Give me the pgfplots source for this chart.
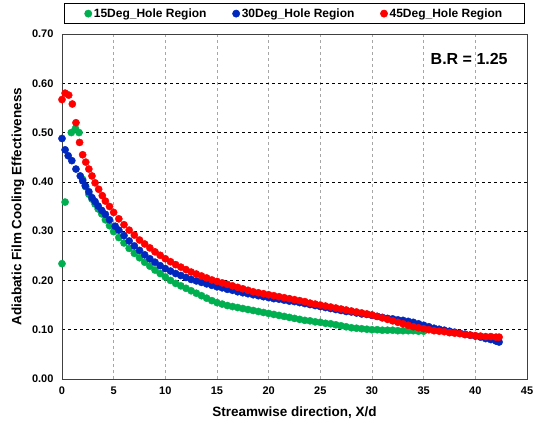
\documentclass[border=0pt]{standalone}
\usepackage{pgfplots}
\pgfplotsset{compat=1.18}
\usepackage{fontspec}
\setmainfont{Liberation Sans}
\definecolor{cgreen}{RGB}{0,176,80}
\definecolor{cblue}{RGB}{0,40,190}
\definecolor{cred}{RGB}{255,0,0}
\begin{document}
\begin{tikzpicture}
\begin{axis}[
  scale only axis, width=465pt, height=345pt,
  xmin=0, xmax=45, ymin=0, ymax=0.7,
  xtick={0,5,...,45}, ytick={0,0.1,...,0.7},
  major tick length=0pt,
  axis line style={draw=black!75, line width=0.8pt},
  grid=major,
  x grid style={dashed, gray!70, line width=0.5pt},
  y grid style={dashed, black, line width=0.5pt},
  /pgf/number format/assume math mode=true,
  ticklabel style={font=\bfseries\fontsize{11}{13}\selectfont},
  yticklabel style={/pgf/number format/fixed, /pgf/number format/fixed zerofill, /pgf/number format/precision=2, xshift=-5pt},
  xticklabel style={/pgf/number format/fixed, yshift=-4pt},
  xlabel={Streamwise direction, X/d},
  ylabel={Adiabatic Film Cooling Effectiveness},
  label style={font=\bfseries\fontsize{13.5}{15}\selectfont},
  xlabel style={yshift=-6pt},
  ylabel style={yshift=1pt},
  legend columns=3,
  legend style={at={(0.5,1)}, yshift=10pt, anchor=south, draw=black, line width=0.6pt,
    font=\bfseries\fontsize{12}{14}\selectfont, inner xsep=20pt, inner ysep=3pt,
    /tikz/every even column/.append style={column sep=24pt}},
  legend image code/.code={\draw[mark repeat=2,mark phase=2] plot coordinates {(0cm,0cm) (0.12cm,0cm) (0.24cm,0cm)};},
  every axis plot/.append style={only marks, mark=*, mark size=3.6pt},
]
\addplot[cgreen, mark options={draw=cgreen, fill=cgreen}] coordinates {
(0,0.234)(0.3,0.359)(0.9,0.50)(1.3,0.508)(1.65,0.50)
(2.0,0.405)(2.3,0.39)(2.6,0.375)(2.9,0.365)(3.2,0.355)(3.5,0.345)(3.85,0.335)(4.2,0.323)(4.6,0.311)
(5.0,0.299)(5.5,0.287)(6,0.276)(6.5,0.265)(7,0.255)(7.5,0.246)(8,0.237)(8.5,0.229)(9,0.221)(9.5,0.214)
(10,0.207)(10.5,0.200)(11,0.194)(11.5,0.189)(12,0.184)(12.5,0.179)(13,0.174)(13.5,0.169)(14,0.164)(14.5,0.159)
(15,0.155)(15.5,0.152)(16,0.149)(16.5,0.147)(17,0.145)(17.5,0.143)(18,0.141)(18.5,0.139)(19,0.137)(19.5,0.135)
(20,0.133)(20.5,0.131)(21,0.129)(21.5,0.127)(22,0.125)(22.5,0.123)(23,0.121)(23.5,0.119)(24,0.118)(24.5,0.116)
(25,0.115)(25.5,0.113)(26,0.112)(26.5,0.110)(27,0.108)(27.5,0.106)(28,0.104)(28.5,0.103)(29,0.102)(29.5,0.101)
(30,0.100)(30.5,0.100)(31,0.099)(31.5,0.099)(32,0.099)(32.5,0.098)(33,0.098)(33.5,0.098)(34,0.098)(34.5,0.097)(35,0.097)
};
\addlegendentry{15Deg\_Hole Region}
\addplot[cblue, mark options={draw=cblue, fill=cblue}] coordinates {
(0,0.488)(0.3,0.465)(0.6,0.453)(0.95,0.443)(1.35,0.426)(1.77,0.412)(2.0,0.402)(2.25,0.392)(2.6,0.38)(2.9,0.368)
(3.2,0.36)(3.5,0.351)(3.85,0.342)(4.2,0.334)(4.6,0.323)(5.15,0.310)(5.5,0.302)(6,0.291)(6.5,0.280)(7,0.270)
(7.5,0.261)(8,0.252)(8.5,0.244)(9,0.237)(9.5,0.230)(10,0.224)(10.5,0.219)(11,0.214)(11.5,0.210)(12,0.206)
(12.5,0.202)(13,0.199)(13.5,0.196)(14,0.193)(14.5,0.190)(15,0.187)(15.5,0.185)(16,0.182)(16.5,0.180)(17,0.177)
(17.5,0.175)(18,0.173)(18.5,0.171)(19,0.169)(19.5,0.167)(20,0.165)(20.5,0.163)(21,0.162)(21.5,0.160)(22,0.158)
(22.5,0.157)(23,0.155)(23.5,0.153)(24,0.151)(24.5,0.149)(25,0.147)(25.5,0.145)(26,0.143)(26.5,0.141)(27,0.139)
(27.5,0.137)(28,0.136)(28.5,0.134)(29,0.132)(29.5,0.131)(30,0.129)(30.5,0.127)(31,0.125)(31.5,0.123)(32,0.122)
(32.5,0.120)(33,0.119)(33.5,0.117)(34,0.115)(34.5,0.112)(35,0.109)(35.5,0.106)(36,0.103)(36.5,0.101)(37,0.099)
(37.5,0.097)(38,0.095)(38.5,0.093)(39,0.091)(39.5,0.089)(40,0.087)(40.5,0.085)(41,0.082)(41.5,0.080)(42,0.077)(42.3,0.075)
};
\addlegendentry{30Deg\_Hole Region}
\addplot[cred, mark options={draw=cred, fill=cred}] coordinates {
(0,0.567)(0.3,0.58)(0.65,0.576)(1.0,0.558)(1.35,0.52)(1.7,0.48)(2.0,0.455)(2.3,0.44)(2.6,0.426)(2.9,0.412)
(3.2,0.398)(3.55,0.385)(3.9,0.372)(4.2,0.361)(4.6,0.35)(5.0,0.338)(5.5,0.325)(6,0.313)(6.5,0.302)(7,0.292)
(7.5,0.282)(8,0.274)(8.5,0.266)(9,0.258)(9.5,0.251)(10,0.244)(10.5,0.238)(11,0.232)(11.5,0.227)(12,0.222)
(12.5,0.217)(13,0.213)(13.5,0.209)(14,0.205)(14.5,0.201)(15,0.198)(15.5,0.195)(16,0.192)(16.5,0.189)(17,0.186)
(17.5,0.183)(18,0.180)(18.5,0.177)(19,0.175)(19.5,0.173)(20,0.171)(20.5,0.169)(21,0.167)(21.5,0.165)(22,0.163)
(22.5,0.161)(23,0.159)(23.5,0.157)(24,0.154)(24.5,0.152)(25,0.150)(25.5,0.148)(26,0.146)(26.5,0.144)(27,0.142)
(27.5,0.140)(28,0.138)(28.5,0.136)(29,0.134)(29.5,0.132)(30,0.130)(30.5,0.127)(31,0.124)(31.5,0.121)(32,0.118)
(32.5,0.115)(33,0.112)(33.5,0.109)(34,0.106)(34.5,0.104)(35,0.102)(35.5,0.100)(36,0.098)(36.5,0.097)(37,0.096)
(37.5,0.094)(38,0.093)(38.5,0.092)(39,0.090)(39.5,0.089)(40,0.088)(40.5,0.087)(41,0.086)(41.5,0.086)(42,0.085)(42.3,0.085)
};
\addlegendentry{45Deg\_Hole Region}
\node[anchor=east, font=\bfseries\fontsize{16}{18}\selectfont] at (rel axis cs:0.966,0.928) {B.R = 1.25};
\end{axis}
\pgfresetboundingbox
\path[use as bounding box] (current axis.south west) ++(-62pt,-52pt) rectangle ++(535pt,431pt);
\end{tikzpicture}
\end{document}
